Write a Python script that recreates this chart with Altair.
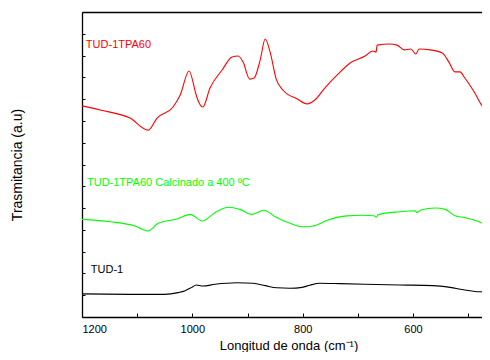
import altair as alt
import pandas as pd

# Wavenumber (cm-1) and transmittance (a.u.)
red_wn = [1200, 1167, 1113, 1080, 1064, 1035, 1022, 1006, 993, 990, 981, 968, 946, 928, 917, 908, 896, 888,
          877, 868, 859, 848, 836, 810, 792, 778, 760, 736, 714, 687, 673, 667, 665, 642, 629, 616, 604,
          595, 589, 569, 547, 535, 524, 515, 506, 488, 473, 460]
red_t = [9.69, 9.50, 9.13, 8.58, 9.13, 9.64, 10.19, 11.29, 10.19, 9.96, 9.64, 10.51, 11.34, 11.93, 11.98,
         11.70, 10.92, 10.97, 11.80, 12.76, 12.16, 10.92, 10.42, 10.01, 9.78, 9.96, 10.51, 11.15, 11.66,
         11.98, 12.21, 12.16, 12.48, 12.53, 12.48, 12.26, 12.30, 12.07, 12.30, 12.26, 12.12, 11.70, 11.25,
         11.25, 10.97, 10.28, 9.64, 9.50]

green_wn = [1200, 1149, 1104, 1080, 1062, 1028, 1004, 982, 959, 935, 914, 892, 870, 850, 823, 799, 781, 754,
            720, 691, 671, 667, 663, 624, 596, 593, 587, 560, 542, 524, 506, 485, 470, 460]
green_t = [4.48, 4.37, 4.18, 3.95, 4.30, 4.50, 4.71, 4.41, 4.79, 5.04, 4.94, 4.71, 4.90, 4.60, 4.30, 4.14,
           4.18, 4.45, 4.64, 4.67, 4.65, 4.58, 4.70, 4.83, 4.88, 4.79, 4.90, 5.00, 4.94, 4.65, 4.56, 4.42,
           4.26, 4.22]

black_wn = [1200, 1113, 1050, 1026, 1013, 1001, 993, 981, 959, 919, 890, 868, 847, 823, 801, 787, 769, 732,
            624, 564, 533, 506, 479, 460]
black_t = [1.06, 1.04, 1.04, 1.12, 1.21, 1.36, 1.47, 1.42, 1.50, 1.57, 1.55, 1.44, 1.34, 1.32, 1.36, 1.46,
           1.55, 1.53, 1.47, 1.44, 1.36, 1.24, 1.16, 1.16]

series_names = ["TUD-1TPA60", "TUD-1TPA60 Calcinado a 400 ºC", "TUD-1"]
series_colors = ["#ff0000", "#00ff00", "#000000"]

label_wn = [1193, 1191, 1184]
label_t = [12.36, 6.03, 2.01]

x_major = [1200, 1000, 800, 600]
x_minor = [1200, 1100, 1000, 900, 800, 700, 600, 500]
y_ticks = list(range(0, 15))

frames = []
for name, wn, t in zip(series_names, [red_wn, green_wn, black_wn], [red_t, green_t, black_t]):
    frames.append(pd.DataFrame({"wn": wn, "t": t, "series": name}))
df = pd.concat(frames, ignore_index=True)

labels = pd.DataFrame({"wn": label_wn, "t": label_t, "series": series_names, "c": series_colors})

W, H = 400, 305
xs = alt.Scale(domain=[1200, 475], nice=False, zero=False)
ys = alt.Scale(domain=[0, 14], nice=False, zero=False)
cs = alt.Scale(domain=series_names, range=series_colors)

lines = alt.Chart(df).mark_line(strokeWidth=1.1, interpolate="monotone", clip=True).encode(
    x=alt.X("wn:Q", scale=xs, axis=alt.Axis(
        values=x_major, format="d", ticks=False, tickSize=0, grid=False, domain=True,
        domainColor="black", domainWidth=1.3, labelFontSize=11, labelColor="black", labelPadding=6,
        title="Longitud de onda (cm⁻¹)", titleFontSize=13, titleFontWeight="normal",
        titleColor="black", titleX=206.5, titleY=32, titleBaseline="alphabetic",
        titleAlign="center", titleAnchor="middle")),
    y=alt.Y("t:Q", scale=ys, axis=alt.Axis(
        ticks=False, tickSize=0, labels=False, grid=False, domain=True, domainColor="black",
        domainWidth=1.3, title="Trasmitancia (a.u)", titleFontSize=14, titleFontWeight="normal",
        titleColor="black", titleX=-61, titleBaseline="alphabetic")),
    color=alt.Color("series:N", scale=cs, legend=None),
    order=alt.Order("series:N"),
)

texts = alt.Chart(labels).mark_text(align="left", baseline="alphabetic", fontSize=11,
                                     font="Liberation Sans").encode(
    x=alt.X("wn:Q", scale=xs, axis=None),
    y=alt.Y("t:Q", scale=ys, axis=None),
    text="series:N",
    color=alt.Color("c:N", scale=None),
)

ticks = alt.Chart(df).mark_point(opacity=0).encode(
    x=alt.X("wn:Q", scale=xs, axis=alt.Axis(
        orient="bottom", offset=-4, tickSize=4, tickColor="black", tickWidth=1, values=x_minor,
        labels=False, domain=False, grid=False, title=None)),
    y=alt.Y("t:Q", scale=ys, axis=alt.Axis(
        orient="left", offset=-3, tickSize=3, tickColor="black", tickWidth=1, values=y_ticks,
        labels=False, domain=False, grid=False, title=None)),
)

topline = alt.Chart(df).mark_point(opacity=0).encode(
    x=alt.X("wn:Q", scale=xs, axis=alt.Axis(
        orient="top", ticks=False, labels=False, domain=True, domainColor="black",
        domainWidth=1.3, grid=False, title=None)),
    y=alt.Y("t:Q", scale=ys, axis=None),
)

chart = alt.layer(lines, texts, ticks, topline).resolve_axis(
    x="independent", y="independent"
).properties(
    width=W, height=H,
    autosize=alt.AutoSizeParams(type="none"),
    padding={"left": 74, "top": 4, "right": 0, "bottom": 35},
).configure(font="Liberation Sans").configure_view(stroke=None)

chart.save("out.html", embed_options={"renderer": "svg", "actions": False})
